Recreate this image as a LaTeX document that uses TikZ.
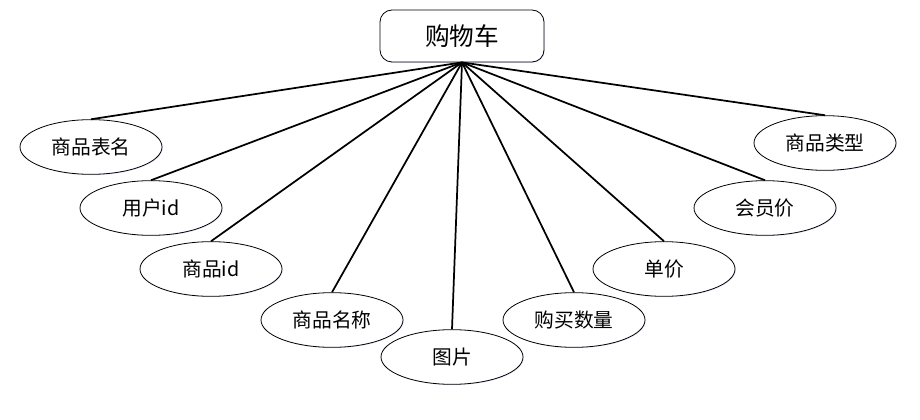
\documentclass[tikz,border=0pt]{standalone}
\usepackage{fontspec}
\setmainfont{Noto Sans CJK SC}
\usetikzlibrary{shapes.geometric,shadows}
\tikzset{
    % --- estilos ---
    glow/.style={drop shadow={shadow xshift=0.6pt, shadow yshift=-0.6pt, fill=blue!20!white, opacity=0.5}},
    entity_box/.style={draw, fill=white, glow, rounded corners=9pt, minimum width=123pt, minimum height=39pt,
                       line width=0.6pt, font=\fontsize{18.5}{20}\selectfont},
    attr_ellipse/.style={draw, fill=white, glow, ellipse, minimum width=106.5pt, minimum height=41pt, inner sep=0pt,
                         line width=0.6pt, font=\fontsize{14.8}{16}\selectfont},
    link_line/.style={line width=1.3pt}
}

\begin{document}
\begin{tikzpicture}[x=0.75pt,y=-0.75pt]
    \useasboundingbox (0,0) rectangle (920,420);

    \node[entity_box] (cart) at (462,36) {购物车};

    \node[attr_ellipse] (tablename) at (91,147) {商品表名};
    \node[attr_ellipse] (userid)    at (151,208) {用户id};
    \node[attr_ellipse] (goodsid)   at (211,269) {商品id};
    \node[attr_ellipse] (goodsname) at (332,320) {商品名称};
    \node[attr_ellipse] (picture)   at (452,357) {图片};
    \node[attr_ellipse] (amount)    at (574,320) {购买数量};
    \node[attr_ellipse] (price)     at (664,269) {单价};
    \node[attr_ellipse] (vipprice)  at (765,208) {会员价};
    \node[attr_ellipse] (goodstype) at (825,143) {商品类型};

    % lineas desde el nodo central
    \foreach \attr in {tablename,userid,goodsid,goodsname,picture,amount,price,vipprice,goodstype}
        \draw[link_line] (cart.south) -- (\attr.north);
\end{tikzpicture}
\end{document}
